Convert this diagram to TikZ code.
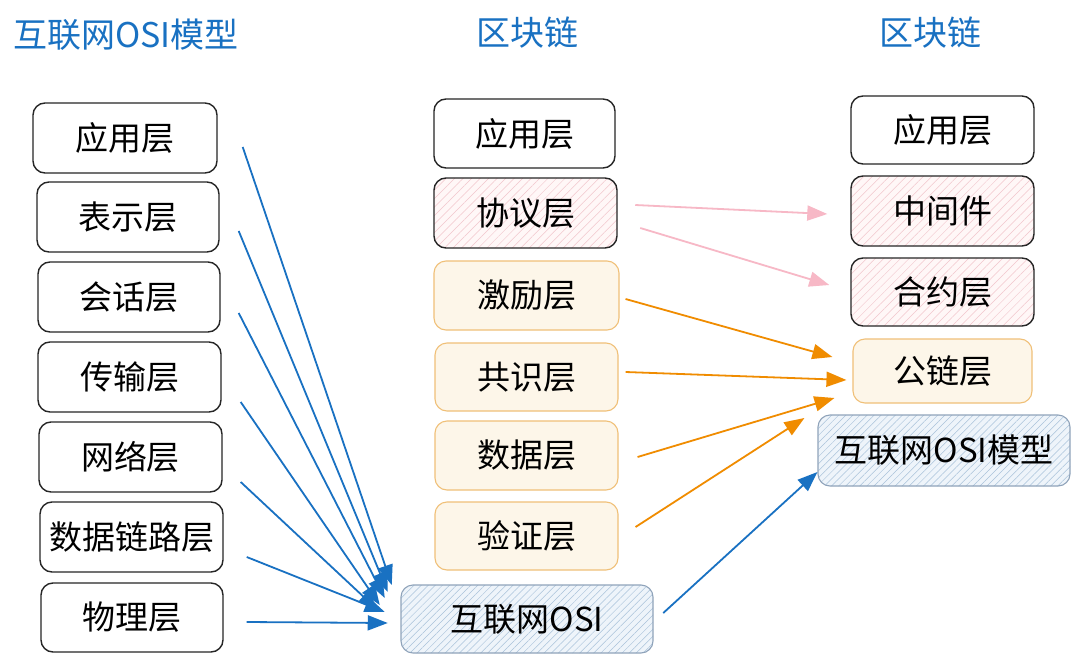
\documentclass[tikz,border=0pt]{standalone}
\usepackage{fontspec}
\newfontfamily\cjk{Noto Sans CJK SC}
\usetikzlibrary{arrows.meta,patterns.meta,calc}
\definecolor{tblue}{HTML}{1971C2}
\definecolor{apink}{HTML}{F7B8C6}
\definecolor{aorange}{HTML}{F08C00}
\definecolor{pinkfill}{HTML}{FFF7F7}
\definecolor{pinkline}{HTML}{F2C6CC}
\definecolor{creamfill}{HTML}{FDF6E9}
\definecolor{creamborder}{HTML}{F0C078}
\definecolor{bluefill}{HTML}{EEF4FA}
\definecolor{blueline}{HTML}{A9C2DA}
\definecolor{blueborder}{HTML}{8FA3BA}
\begin{document}
\begin{tikzpicture}[x=1pt,y=-1pt,
  box/.style={draw=black!85, line width=1.4pt, rounded corners=12pt,
    font=\cjk\fontsize{33}{36}\selectfont, inner sep=0pt, align=center},
  plainbox/.style={box, fill=white},
  pinkbox/.style={box, preaction={fill=pinkfill},
    pattern={Lines[angle=45,distance=6pt,line width=0.5pt]}, pattern color=pinkline},
  orangebox/.style={box, draw=creamborder, line width=1.1pt, fill=creamfill},
  bluebox/.style={box, draw=blueborder, line width=1.1pt, preaction={fill=bluefill},
    pattern={Lines[angle=45,distance=5pt,line width=0.5pt]}, pattern color=blueline},
  title/.style={font=\cjk\fontsize{34}{36}\selectfont},
  barrow/.style={draw=tblue, line width=1.8pt, -{Triangle[length=20pt,width=15pt]}},
  parrow/.style={draw=apink, line width=1.8pt, -{Triangle[length=20pt,width=15pt]}},
  oarrow/.style={draw=aorange, line width=1.8pt, -{Triangle[length=20pt,width=15pt]}},
]
\useasboundingbox (0,0) rectangle (1080,667);
\fill[white] (0,0) rectangle (1080,667);

% titles
\node[title, text=tblue] (T1) at (126,35) {互联网OSI模型};
\node[title, text=tblue] (T2) at (527,33) {区块链};
\node[title, text=tblue] (T3) at (930,33) {区块链};

% left column
\node[plainbox, minimum width=184pt, minimum height=70pt] (L1) at (125,138) {应用层};
\node[plainbox, minimum width=182pt, minimum height=70pt] (L2) at (128,217) {表示层};
\node[plainbox, minimum width=182pt, minimum height=70pt] (L3) at (129,297) {会话层};
\node[plainbox, minimum width=183pt, minimum height=70pt] (L4) at (129.5,377) {传输层};
\node[plainbox, minimum width=183pt, minimum height=70pt] (L5) at (130.5,457) {网络层};
\node[plainbox, minimum width=183pt, minimum height=70pt] (L6) at (131.5,537) {数据链路层};
\node[plainbox, minimum width=182pt, minimum height=69pt] (L7) at (132,617.5) {物理层};

% middle column
\node[plainbox, minimum width=181pt, minimum height=69pt] (M1) at (524.5,133.5) {应用层};
\node[pinkbox, minimum width=183pt, minimum height=70pt] (M2) at (525.5,213) {协议层};
\node[orangebox, minimum width=185pt, minimum height=69pt] (M3) at (526.5,295.5) {激励层};
\node[orangebox, minimum width=183pt, minimum height=68pt] (M4) at (526.5,377) {共识层};
\node[orangebox, minimum width=183pt, minimum height=69pt] (M5) at (526.5,455.5) {数据层};
\node[orangebox, minimum width=183pt, minimum height=68pt] (M6) at (526.5,536) {验证层};
\node[bluebox, minimum width=252pt, minimum height=68pt] (M7) at (527,619) {互联网OSI};

% right column
\node[plainbox, minimum width=183pt, minimum height=68pt] (R1) at (942.5,130) {应用层};
\node[pinkbox, minimum width=183pt, minimum height=70pt] (R2) at (942.5,211) {中间件};
\node[pinkbox, minimum width=183pt, minimum height=68pt] (R3) at (942.5,292) {合约层};
\node[orangebox, minimum width=179pt, minimum height=64pt] (R4) at (942.5,371) {公链层};
\node[bluebox, minimum width=252pt, minimum height=71pt] (R5) at (944,450.5) {互联网OSI模型};

% blue arrows left -> OSI
\draw[barrow] ([shift={(25,9)}]L1.east) -- ([shift={(-9,-34)}]M7.west);
\draw[barrow] ([shift={(19,14)}]L2.east) -- ([shift={(-13,-27)}]M7.west);
\draw[barrow] ([shift={(18,16)}]L3.east) -- ([shift={(-16,-21)}]M7.west);
\draw[barrow] ([shift={(19,25)}]L4.east) -- ([shift={(-21,-14)}]M7.west);
\draw[barrow] ([shift={(18,25)}]L5.east) -- ([shift={(-23,-9)}]M7.west);
\draw[barrow] ([shift={(23,20)}]L6.east) -- ([shift={(-16,-7)}]M7.west);
\draw[barrow] ([shift={(23,4.5)}]L7.east) -- ([shift={(-13,4)}]M7.west);

% pink arrows
\draw[parrow] ([shift={(18,-8)}]M2.east) -- ([shift={(-23,3)}]R2.west);
\draw[parrow] ([shift={(23,15)}]M2.east) -- ([shift={(-21,-7)}]R3.west);

% orange arrows
\draw[oarrow] ([shift={(6,3.5)}]M3.east) -- ([shift={(-20,-14)}]R4.west);
\draw[oarrow] ([shift={(7,-5)}]M4.east) -- ([shift={(-6,9)}]R4.west);
\draw[oarrow] ([shift={(19,1.5)}]M5.east) -- ([shift={(-18,27)}]R4.west);
\draw[oarrow] ([shift={(17,-9)}]M6.east) -- ([shift={(-13,-32.5)}]R5.west);

% blue arrow OSI -> OSI model
\draw[barrow] ([shift={(10,-6)}]M7.east) -- ([shift={(0,21.5)}]R5.west);
\end{tikzpicture}
\end{document}
